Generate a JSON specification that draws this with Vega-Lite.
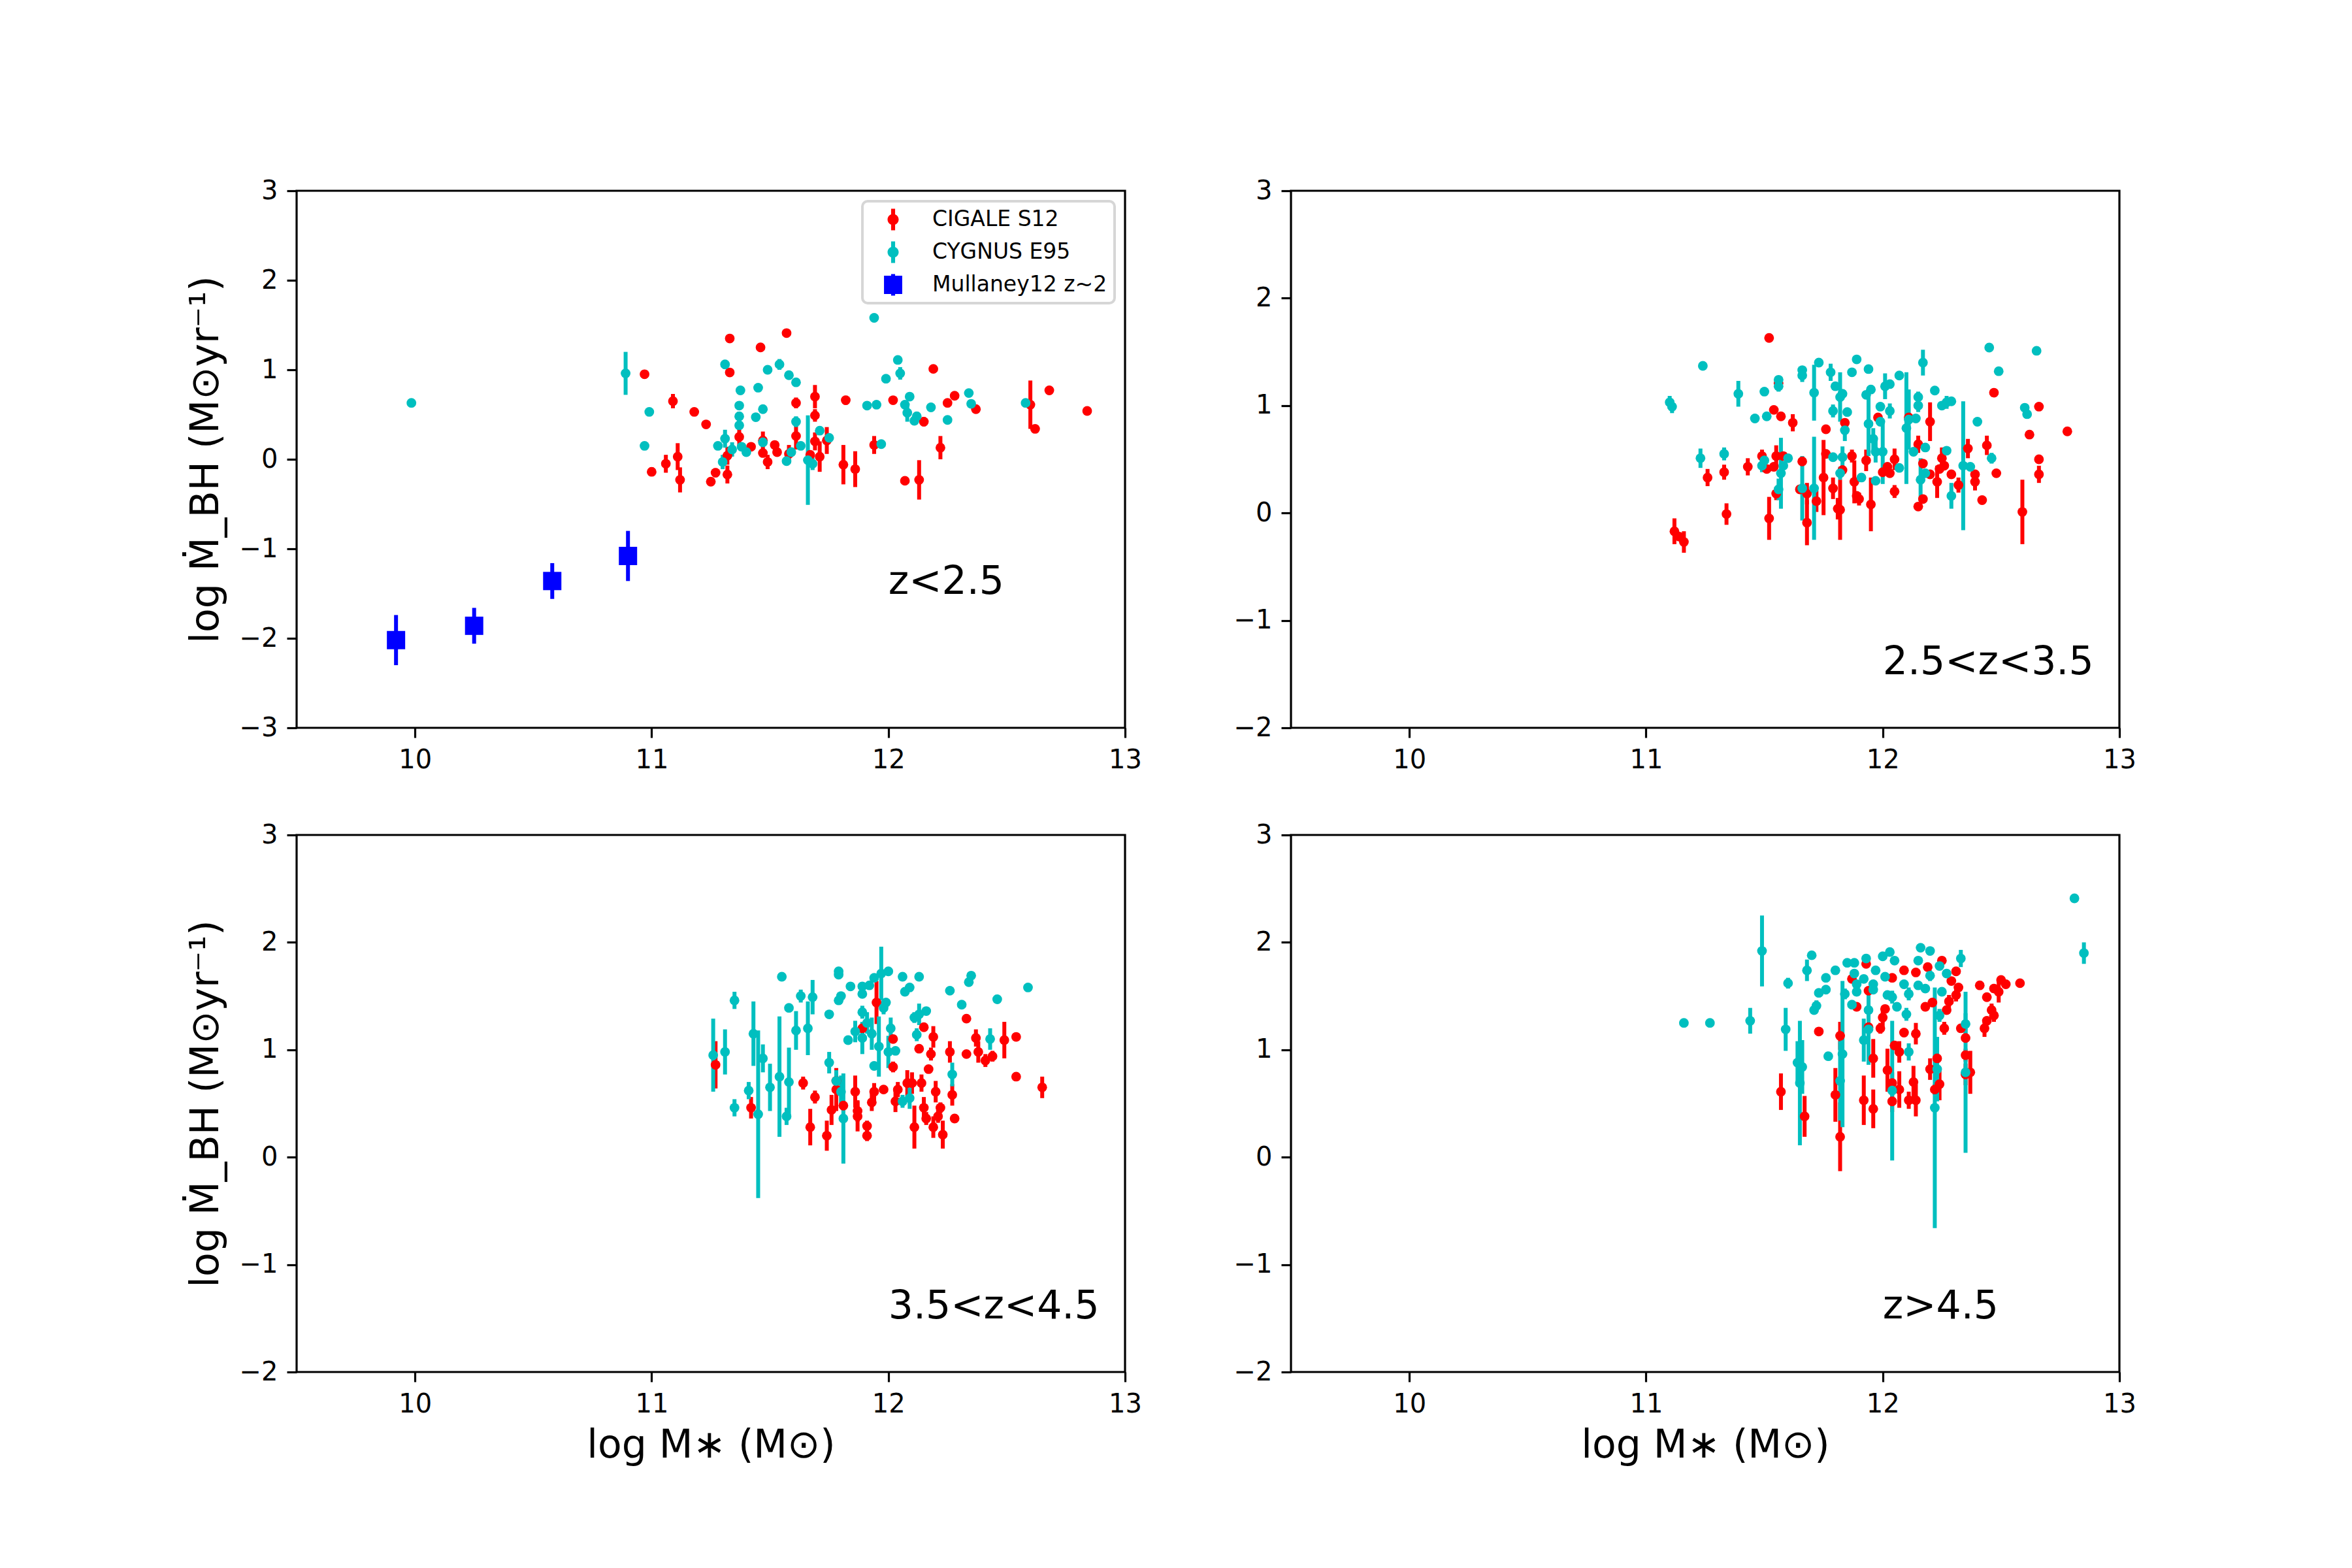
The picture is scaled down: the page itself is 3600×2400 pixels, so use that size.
{
  "$schema": "https://vega.github.io/schema/vega-lite/v6.json",
  "background": "white",
  "padding": {"left": 283, "top": 270, "right": 20, "bottom": 20},
  "autosize": {"type": "pad"},
  "config": {
    "font": "DejaVu Sans",
    "view": {"stroke": "black", "strokeWidth": 3.2},
    "axis": {
      "grid": false, "domain": false, "ticks": true, "tickSize": 15, "tickWidth": 3.2, "tickColor": "black",
      "labelFontSize": 40, "labelColor": "black", "labelPadding": 14, "labelFlush": false, "labelOverlap": false,
      "titleFontSize": 60, "titleFontWeight": "normal", "titleColor": "black",
      "labelFont": "DejaVu Sans", "titleFont": "DejaVu Sans"
    },
    "axisY": {"titlePadding": 20},
    "axisX": {"titlePadding": 14}
  },
  "datasets": {
    "p1": [
      {"s":"CIGALE S12","x":10.97,"y":0.95,"e":0},
      {"s":"CIGALE S12","x":11.00,"y":-0.14,"e":0.05},
      {"s":"CIGALE S12","x":11.06,"y":-0.05,"e":0.1},
      {"s":"CIGALE S12","x":11.09,"y":0.65,"e":0.08},
      {"s":"CIGALE S12","x":11.11,"y":0.03,"e":0.15},
      {"s":"CIGALE S12","x":11.12,"y":-0.23,"e":0.14},
      {"s":"CIGALE S12","x":11.18,"y":0.53,"e":0},
      {"s":"CIGALE S12","x":11.23,"y":0.39,"e":0.04},
      {"s":"CIGALE S12","x":11.25,"y":-0.25,"e":0},
      {"s":"CIGALE S12","x":11.27,"y":-0.15,"e":0.05},
      {"s":"CIGALE S12","x":11.32,"y":-0.17,"e":0.1},
      {"s":"CIGALE S12","x":11.33,"y":1.35,"e":0},
      {"s":"CIGALE S12","x":11.33,"y":0.97,"e":0},
      {"s":"CIGALE S12","x":11.37,"y":0.25,"e":0.1},
      {"s":"CIGALE S12","x":11.32,"y":0.04,"e":0.1},
      {"s":"CIGALE S12","x":11.42,"y":0.14,"e":0},
      {"s":"CIGALE S12","x":11.46,"y":1.25,"e":0},
      {"s":"CIGALE S12","x":11.47,"y":0.21,"e":0.1},
      {"s":"CIGALE S12","x":11.47,"y":0.07,"e":0},
      {"s":"CIGALE S12","x":11.49,"y":-0.03,"e":0.08},
      {"s":"CIGALE S12","x":11.52,"y":0.16,"e":0},
      {"s":"CIGALE S12","x":11.53,"y":0.08,"e":0},
      {"s":"CIGALE S12","x":11.57,"y":1.41,"e":0},
      {"s":"CIGALE S12","x":11.58,"y":0.06,"e":0.1},
      {"s":"CIGALE S12","x":11.61,"y":0.63,"e":0.06},
      {"s":"CIGALE S12","x":11.61,"y":0.26,"e":0.15},
      {"s":"CIGALE S12","x":11.69,"y":0.70,"e":0.13},
      {"s":"CIGALE S12","x":11.69,"y":0.49,"e":0.07},
      {"s":"CIGALE S12","x":11.69,"y":0.20,"e":0.1},
      {"s":"CIGALE S12","x":11.67,"y":0.05,"e":0},
      {"s":"CIGALE S12","x":11.71,"y":0.03,"e":0.17},
      {"s":"CIGALE S12","x":11.74,"y":0.21,"e":0.15},
      {"s":"CIGALE S12","x":11.81,"y":-0.06,"e":0.22},
      {"s":"CIGALE S12","x":11.82,"y":0.66,"e":0.05},
      {"s":"CIGALE S12","x":11.86,"y":-0.11,"e":0.2},
      {"s":"CIGALE S12","x":11.94,"y":0.16,"e":0.1},
      {"s":"CIGALE S12","x":12.02,"y":0.66,"e":0},
      {"s":"CIGALE S12","x":12.07,"y":-0.24,"e":0},
      {"s":"CIGALE S12","x":12.13,"y":-0.23,"e":0.22},
      {"s":"CIGALE S12","x":12.15,"y":0.42,"e":0.05},
      {"s":"CIGALE S12","x":12.19,"y":1.01,"e":0},
      {"s":"CIGALE S12","x":12.22,"y":0.13,"e":0.13},
      {"s":"CIGALE S12","x":12.25,"y":0.63,"e":0},
      {"s":"CIGALE S12","x":12.28,"y":0.71,"e":0},
      {"s":"CIGALE S12","x":12.37,"y":0.56,"e":0},
      {"s":"CIGALE S12","x":12.60,"y":0.61,"e":0.27},
      {"s":"CIGALE S12","x":12.62,"y":0.34,"e":0},
      {"s":"CIGALE S12","x":12.68,"y":0.77,"e":0},
      {"s":"CIGALE S12","x":12.84,"y":0.54,"e":0.03},
      {"s":"CYGNUS E95","x":9.985,"y":0.63,"e":0},
      {"s":"CYGNUS E95","x":10.89,"y":0.96,"e":0.24},
      {"s":"CYGNUS E95","x":10.99,"y":0.53,"e":0},
      {"s":"CYGNUS E95","x":10.97,"y":0.15,"e":0},
      {"s":"CYGNUS E95","x":11.31,"y":1.06,"e":0.05},
      {"s":"CYGNUS E95","x":11.375,"y":0.77,"e":0},
      {"s":"CYGNUS E95","x":11.37,"y":0.60,"e":0},
      {"s":"CYGNUS E95","x":11.37,"y":0.48,"e":0.05},
      {"s":"CYGNUS E95","x":11.37,"y":0.38,"e":0.05},
      {"s":"CYGNUS E95","x":11.31,"y":0.23,"e":0.1},
      {"s":"CYGNUS E95","x":11.28,"y":0.15,"e":0},
      {"s":"CYGNUS E95","x":11.30,"y":-0.03,"e":0.08},
      {"s":"CYGNUS E95","x":11.34,"y":0.11,"e":0.08},
      {"s":"CYGNUS E95","x":11.38,"y":0.14,"e":0},
      {"s":"CYGNUS E95","x":11.40,"y":0.08,"e":0},
      {"s":"CYGNUS E95","x":11.45,"y":0.80,"e":0},
      {"s":"CYGNUS E95","x":11.44,"y":0.47,"e":0},
      {"s":"CYGNUS E95","x":11.47,"y":0.56,"e":0},
      {"s":"CYGNUS E95","x":11.49,"y":1.00,"e":0},
      {"s":"CYGNUS E95","x":11.54,"y":1.06,"e":0.06},
      {"s":"CYGNUS E95","x":11.58,"y":0.94,"e":0},
      {"s":"CYGNUS E95","x":11.61,"y":0.86,"e":0},
      {"s":"CYGNUS E95","x":11.47,"y":0.19,"e":0.05},
      {"s":"CYGNUS E95","x":11.57,"y":-0.02,"e":0},
      {"s":"CYGNUS E95","x":11.59,"y":0.08,"e":0},
      {"s":"CYGNUS E95","x":11.61,"y":0.42,"e":0.06},
      {"s":"CYGNUS E95","x":11.63,"y":0.15,"e":0},
      {"s":"CYGNUS E95","x":11.66,"y":-0.01,"e":0.5},
      {"s":"CYGNUS E95","x":11.68,"y":-0.05,"e":0.07},
      {"s":"CYGNUS E95","x":11.71,"y":0.32,"e":0},
      {"s":"CYGNUS E95","x":11.75,"y":0.24,"e":0},
      {"s":"CYGNUS E95","x":11.94,"y":1.58,"e":0},
      {"s":"CYGNUS E95","x":11.91,"y":0.60,"e":0},
      {"s":"CYGNUS E95","x":11.95,"y":0.61,"e":0},
      {"s":"CYGNUS E95","x":11.97,"y":0.17,"e":0},
      {"s":"CYGNUS E95","x":11.99,"y":0.90,"e":0},
      {"s":"CYGNUS E95","x":12.04,"y":1.11,"e":0},
      {"s":"CYGNUS E95","x":12.05,"y":0.96,"e":0.07},
      {"s":"CYGNUS E95","x":12.07,"y":0.61,"e":0},
      {"s":"CYGNUS E95","x":12.08,"y":0.52,"e":0.1},
      {"s":"CYGNUS E95","x":12.09,"y":0.70,"e":0},
      {"s":"CYGNUS E95","x":12.11,"y":0.43,"e":0},
      {"s":"CYGNUS E95","x":12.12,"y":0.48,"e":0.05},
      {"s":"CYGNUS E95","x":12.18,"y":0.58,"e":0},
      {"s":"CYGNUS E95","x":12.25,"y":0.44,"e":0},
      {"s":"CYGNUS E95","x":12.34,"y":0.74,"e":0},
      {"s":"CYGNUS E95","x":12.35,"y":0.62,"e":0},
      {"s":"CYGNUS E95","x":12.58,"y":0.63,"e":0},
      {"s":"Mullaney12 z~2","x":9.92,"y":-2.02,"e":0.28},
      {"s":"Mullaney12 z~2","x":10.25,"y":-1.86,"e":0.2},
      {"s":"Mullaney12 z~2","x":10.58,"y":-1.36,"e":0.2},
      {"s":"Mullaney12 z~2","x":10.90,"y":-1.08,"e":0.28}
    ],
    "p2": [
      {"s":"CIGALE S12","x":11.52,"y":1.63,"e":0},
      {"s":"CIGALE S12","x":11.12,"y":-0.17,"e":0.12},
      {"s":"CIGALE S12","x":11.14,"y":-0.22,"e":0},
      {"s":"CIGALE S12","x":11.16,"y":-0.27,"e":0.1},
      {"s":"CIGALE S12","x":11.26,"y":0.33,"e":0.08},
      {"s":"CIGALE S12","x":11.33,"y":0.38,"e":0.07},
      {"s":"CIGALE S12","x":11.34,"y":-0.01,"e":0.1},
      {"s":"CIGALE S12","x":11.43,"y":0.43,"e":0.08},
      {"s":"CIGALE S12","x":11.49,"y":0.53,"e":0.06},
      {"s":"CIGALE S12","x":11.52,"y":-0.05,"e":0.2},
      {"s":"CIGALE S12","x":11.51,"y":0.41,"e":0},
      {"s":"CIGALE S12","x":11.54,"y":0.96,"e":0},
      {"s":"CIGALE S12","x":11.57,"y":0.90,"e":0},
      {"s":"CIGALE S12","x":11.56,"y":1.21,"e":0},
      {"s":"CIGALE S12","x":11.55,"y":0.53,"e":0.1},
      {"s":"CIGALE S12","x":11.54,"y":0.43,"e":0},
      {"s":"CIGALE S12","x":11.55,"y":0.18,"e":0.06},
      {"s":"CIGALE S12","x":11.58,"y":0.53,"e":0},
      {"s":"CIGALE S12","x":11.62,"y":0.84,"e":0.08},
      {"s":"CIGALE S12","x":11.65,"y":0.22,"e":0},
      {"s":"CIGALE S12","x":11.66,"y":0.48,"e":0},
      {"s":"CIGALE S12","x":11.68,"y":-0.09,"e":0.21},
      {"s":"CIGALE S12","x":11.68,"y":0.18,"e":0.1},
      {"s":"CIGALE S12","x":11.72,"y":0.11,"e":0.1},
      {"s":"CIGALE S12","x":11.75,"y":0.33,"e":0.35},
      {"s":"CIGALE S12","x":11.76,"y":0.78,"e":0},
      {"s":"CIGALE S12","x":11.76,"y":0.55,"e":0},
      {"s":"CIGALE S12","x":11.79,"y":0.23,"e":0.1},
      {"s":"CIGALE S12","x":11.81,"y":0.04,"e":0.1},
      {"s":"CIGALE S12","x":11.82,"y":0.03,"e":0.28},
      {"s":"CIGALE S12","x":11.83,"y":0.40,"e":0},
      {"s":"CIGALE S12","x":11.84,"y":0.84,"e":0},
      {"s":"CIGALE S12","x":11.87,"y":0.53,"e":0.06},
      {"s":"CIGALE S12","x":11.88,"y":0.29,"e":0.2},
      {"s":"CIGALE S12","x":11.89,"y":0.16,"e":0},
      {"s":"CIGALE S12","x":11.90,"y":0.13,"e":0.06},
      {"s":"CIGALE S12","x":11.93,"y":0.49,"e":0.1},
      {"s":"CIGALE S12","x":11.95,"y":0.08,"e":0.25},
      {"s":"CIGALE S12","x":11.98,"y":0.89,"e":0},
      {"s":"CIGALE S12","x":12.00,"y":0.38,"e":0},
      {"s":"CIGALE S12","x":12.02,"y":0.43,"e":0},
      {"s":"CIGALE S12","x":12.03,"y":0.37,"e":0},
      {"s":"CIGALE S12","x":12.05,"y":0.50,"e":0.1},
      {"s":"CIGALE S12","x":12.05,"y":0.20,"e":0.06},
      {"s":"CIGALE S12","x":12.11,"y":0.89,"e":0},
      {"s":"CIGALE S12","x":12.15,"y":0.64,"e":0.08},
      {"s":"CIGALE S12","x":12.17,"y":0.46,"e":0},
      {"s":"CIGALE S12","x":12.15,"y":0.06,"e":0},
      {"s":"CIGALE S12","x":12.17,"y":0.13,"e":0},
      {"s":"CIGALE S12","x":12.20,"y":0.85,"e":0.18},
      {"s":"CIGALE S12","x":12.20,"y":0.36,"e":0},
      {"s":"CIGALE S12","x":12.23,"y":0.29,"e":0.15},
      {"s":"CIGALE S12","x":12.24,"y":0.41,"e":0},
      {"s":"CIGALE S12","x":12.25,"y":0.51,"e":0.1},
      {"s":"CIGALE S12","x":12.26,"y":0.44,"e":0},
      {"s":"CIGALE S12","x":12.29,"y":0.36,"e":0},
      {"s":"CIGALE S12","x":12.32,"y":0.26,"e":0.07},
      {"s":"CIGALE S12","x":12.36,"y":0.60,"e":0.09},
      {"s":"CIGALE S12","x":12.39,"y":0.29,"e":0.08},
      {"s":"CIGALE S12","x":12.39,"y":0.36,"e":0},
      {"s":"CIGALE S12","x":12.42,"y":0.12,"e":0},
      {"s":"CIGALE S12","x":12.44,"y":0.63,"e":0.09},
      {"s":"CIGALE S12","x":12.47,"y":1.12,"e":0},
      {"s":"CIGALE S12","x":12.48,"y":0.37,"e":0},
      {"s":"CIGALE S12","x":12.59,"y":0.01,"e":0.3},
      {"s":"CIGALE S12","x":12.62,"y":0.73,"e":0},
      {"s":"CIGALE S12","x":12.66,"y":0.99,"e":0},
      {"s":"CIGALE S12","x":12.66,"y":0.50,"e":0},
      {"s":"CIGALE S12","x":12.66,"y":0.36,"e":0.08},
      {"s":"CIGALE S12","x":12.78,"y":0.76,"e":0},
      {"s":"CYGNUS E95","x":11.10,"y":1.03,"e":0.06},
      {"s":"CYGNUS E95","x":11.11,"y":0.99,"e":0.06},
      {"s":"CYGNUS E95","x":11.24,"y":1.37,"e":0},
      {"s":"CYGNUS E95","x":11.23,"y":0.51,"e":0.09},
      {"s":"CYGNUS E95","x":11.33,"y":0.55,"e":0.06},
      {"s":"CYGNUS E95","x":11.39,"y":1.11,"e":0.12},
      {"s":"CYGNUS E95","x":11.46,"y":0.88,"e":0},
      {"s":"CYGNUS E95","x":11.50,"y":1.13,"e":0},
      {"s":"CYGNUS E95","x":11.51,"y":0.90,"e":0},
      {"s":"CYGNUS E95","x":11.49,"y":0.44,"e":0.06},
      {"s":"CYGNUS E95","x":11.50,"y":0.49,"e":0},
      {"s":"CYGNUS E95","x":11.56,"y":1.24,"e":0},
      {"s":"CYGNUS E95","x":11.56,"y":1.18,"e":0.05},
      {"s":"CYGNUS E95","x":11.57,"y":0.37,"e":0.33},
      {"s":"CYGNUS E95","x":11.58,"y":0.44,"e":0},
      {"s":"CYGNUS E95","x":11.60,"y":0.51,"e":0},
      {"s":"CYGNUS E95","x":11.56,"y":0.22,"e":0.1},
      {"s":"CYGNUS E95","x":11.66,"y":1.33,"e":0},
      {"s":"CYGNUS E95","x":11.66,"y":1.28,"e":0.06},
      {"s":"CYGNUS E95","x":11.71,"y":1.12,"e":0.26},
      {"s":"CYGNUS E95","x":11.73,"y":1.40,"e":0},
      {"s":"CYGNUS E95","x":11.66,"y":0.23,"e":0.3},
      {"s":"CYGNUS E95","x":11.71,"y":0.23,"e":0.48},
      {"s":"CYGNUS E95","x":11.78,"y":1.31,"e":0.08},
      {"s":"CYGNUS E95","x":11.80,"y":1.18,"e":0},
      {"s":"CYGNUS E95","x":11.82,"y":1.08,"e":0.23},
      {"s":"CYGNUS E95","x":11.83,"y":1.11,"e":0},
      {"s":"CYGNUS E95","x":11.79,"y":0.95,"e":0.06},
      {"s":"CYGNUS E95","x":11.85,"y":0.94,"e":0},
      {"s":"CYGNUS E95","x":11.84,"y":0.77,"e":0.1},
      {"s":"CYGNUS E95","x":11.79,"y":0.52,"e":0},
      {"s":"CYGNUS E95","x":11.83,"y":0.52,"e":0.1},
      {"s":"CYGNUS E95","x":11.82,"y":0.37,"e":0.06},
      {"s":"CYGNUS E95","x":11.87,"y":1.31,"e":0},
      {"s":"CYGNUS E95","x":11.89,"y":1.43,"e":0},
      {"s":"CYGNUS E95","x":11.94,"y":1.34,"e":0},
      {"s":"CYGNUS E95","x":11.93,"y":1.10,"e":0},
      {"s":"CYGNUS E95","x":11.95,"y":1.15,"e":0},
      {"s":"CYGNUS E95","x":11.99,"y":0.99,"e":0},
      {"s":"CYGNUS E95","x":11.94,"y":0.83,"e":0.3},
      {"s":"CYGNUS E95","x":11.99,"y":0.85,"e":0},
      {"s":"CYGNUS E95","x":11.96,"y":0.69,"e":0.1},
      {"s":"CYGNUS E95","x":11.97,"y":0.57,"e":0.1},
      {"s":"CYGNUS E95","x":12.00,"y":0.57,"e":0.3},
      {"s":"CYGNUS E95","x":11.97,"y":0.30,"e":0},
      {"s":"CYGNUS E95","x":11.91,"y":0.33,"e":0},
      {"s":"CYGNUS E95","x":12.01,"y":1.18,"e":0.12},
      {"s":"CYGNUS E95","x":12.03,"y":1.20,"e":0},
      {"s":"CYGNUS E95","x":12.03,"y":0.95,"e":0.07},
      {"s":"CYGNUS E95","x":12.07,"y":1.28,"e":0},
      {"s":"CYGNUS E95","x":12.10,"y":0.79,"e":0.52},
      {"s":"CYGNUS E95","x":12.07,"y":0.42,"e":0},
      {"s":"CYGNUS E95","x":12.11,"y":0.87,"e":0.28},
      {"s":"CYGNUS E95","x":12.15,"y":1.08,"e":0.05},
      {"s":"CYGNUS E95","x":12.15,"y":1.00,"e":0.06},
      {"s":"CYGNUS E95","x":12.14,"y":0.88,"e":0},
      {"s":"CYGNUS E95","x":12.13,"y":0.57,"e":0},
      {"s":"CYGNUS E95","x":12.17,"y":1.40,"e":0.12},
      {"s":"CYGNUS E95","x":12.18,"y":0.61,"e":0},
      {"s":"CYGNUS E95","x":12.18,"y":0.37,"e":0},
      {"s":"CYGNUS E95","x":12.16,"y":0.31,"e":0.2},
      {"s":"CYGNUS E95","x":12.22,"y":1.14,"e":0},
      {"s":"CYGNUS E95","x":12.25,"y":1.00,"e":0},
      {"s":"CYGNUS E95","x":12.27,"y":1.03,"e":0.06},
      {"s":"CYGNUS E95","x":12.29,"y":1.04,"e":0},
      {"s":"CYGNUS E95","x":12.27,"y":0.58,"e":0},
      {"s":"CYGNUS E95","x":12.29,"y":0.16,"e":0.12},
      {"s":"CYGNUS E95","x":12.34,"y":0.44,"e":0.6},
      {"s":"CYGNUS E95","x":12.37,"y":0.43,"e":0},
      {"s":"CYGNUS E95","x":12.40,"y":0.85,"e":0},
      {"s":"CYGNUS E95","x":12.45,"y":1.54,"e":0},
      {"s":"CYGNUS E95","x":12.49,"y":1.32,"e":0},
      {"s":"CYGNUS E95","x":12.46,"y":0.51,"e":0.05},
      {"s":"CYGNUS E95","x":12.60,"y":0.98,"e":0},
      {"s":"CYGNUS E95","x":12.61,"y":0.92,"e":0},
      {"s":"CYGNUS E95","x":12.65,"y":1.51,"e":0}
    ],
    "p3": [
      {"s":"CIGALE S12","x":11.27,"y":0.86,"e":0.22},
      {"s":"CIGALE S12","x":11.42,"y":0.46,"e":0.1},
      {"s":"CIGALE S12","x":11.64,"y":0.69,"e":0.06},
      {"s":"CIGALE S12","x":11.67,"y":0.28,"e":0.17},
      {"s":"CIGALE S12","x":11.69,"y":0.56,"e":0.06},
      {"s":"CIGALE S12","x":11.74,"y":0.20,"e":0.14},
      {"s":"CIGALE S12","x":11.76,"y":0.44,"e":0.14},
      {"s":"CIGALE S12","x":11.78,"y":0.63,"e":0.2},
      {"s":"CIGALE S12","x":11.78,"y":0.71,"e":0.1},
      {"s":"CIGALE S12","x":11.81,"y":0.48,"e":0.05},
      {"s":"CIGALE S12","x":11.86,"y":0.61,"e":0.15},
      {"s":"CIGALE S12","x":11.87,"y":0.43,"e":0.1},
      {"s":"CIGALE S12","x":11.87,"y":0.38,"e":0.14},
      {"s":"CIGALE S12","x":11.89,"y":1.20,"e":0.05},
      {"s":"CIGALE S12","x":11.91,"y":0.29,"e":0.05},
      {"s":"CIGALE S12","x":11.91,"y":0.20,"e":0.05},
      {"s":"CIGALE S12","x":11.93,"y":0.51,"e":0.08},
      {"s":"CIGALE S12","x":11.94,"y":0.61,"e":0.08},
      {"s":"CIGALE S12","x":11.95,"y":1.44,"e":0.2},
      {"s":"CIGALE S12","x":11.98,"y":0.63,"e":0},
      {"s":"CIGALE S12","x":12.02,"y":1.10,"e":0},
      {"s":"CIGALE S12","x":12.02,"y":0.84,"e":0.05},
      {"s":"CIGALE S12","x":12.03,"y":0.52,"e":0.1},
      {"s":"CIGALE S12","x":12.04,"y":0.63,"e":0.07},
      {"s":"CIGALE S12","x":12.08,"y":0.69,"e":0.12},
      {"s":"CIGALE S12","x":12.10,"y":0.69,"e":0.1},
      {"s":"CIGALE S12","x":12.11,"y":0.28,"e":0.2},
      {"s":"CIGALE S12","x":12.13,"y":1.01,"e":0},
      {"s":"CIGALE S12","x":12.15,"y":1.21,"e":0},
      {"s":"CIGALE S12","x":12.14,"y":0.69,"e":0.08},
      {"s":"CIGALE S12","x":12.15,"y":0.46,"e":0.1},
      {"s":"CIGALE S12","x":12.16,"y":0.36,"e":0.06},
      {"s":"CIGALE S12","x":12.17,"y":0.82,"e":0},
      {"s":"CIGALE S12","x":12.18,"y":0.96,"e":0.06},
      {"s":"CIGALE S12","x":12.19,"y":0.28,"e":0.1},
      {"s":"CIGALE S12","x":12.19,"y":1.12,"e":0.1},
      {"s":"CIGALE S12","x":12.20,"y":0.61,"e":0.1},
      {"s":"CIGALE S12","x":12.21,"y":0.38,"e":0.06},
      {"s":"CIGALE S12","x":12.22,"y":0.46,"e":0.05},
      {"s":"CIGALE S12","x":12.23,"y":0.21,"e":0.13},
      {"s":"CIGALE S12","x":12.26,"y":0.98,"e":0.1},
      {"s":"CIGALE S12","x":12.27,"y":0.58,"e":0.1},
      {"s":"CIGALE S12","x":12.28,"y":0.36,"e":0},
      {"s":"CIGALE S12","x":12.33,"y":1.29,"e":0},
      {"s":"CIGALE S12","x":12.33,"y":0.96,"e":0},
      {"s":"CIGALE S12","x":12.37,"y":1.11,"e":0.08},
      {"s":"CIGALE S12","x":12.38,"y":0.98,"e":0.1},
      {"s":"CIGALE S12","x":12.41,"y":0.90,"e":0.06},
      {"s":"CIGALE S12","x":12.44,"y":0.94,"e":0.05},
      {"s":"CIGALE S12","x":12.49,"y":1.09,"e":0.17},
      {"s":"CIGALE S12","x":12.54,"y":1.12,"e":0},
      {"s":"CIGALE S12","x":12.54,"y":0.75,"e":0},
      {"s":"CIGALE S12","x":12.65,"y":0.65,"e":0.1},
      {"s":"CYGNUS E95","x":11.26,"y":0.95,"e":0.34},
      {"s":"CYGNUS E95","x":11.31,"y":0.98,"e":0.21},
      {"s":"CYGNUS E95","x":11.35,"y":1.46,"e":0.08},
      {"s":"CYGNUS E95","x":11.35,"y":0.46,"e":0.08},
      {"s":"CYGNUS E95","x":11.41,"y":0.62,"e":0.08},
      {"s":"CYGNUS E95","x":11.43,"y":1.15,"e":0.3},
      {"s":"CYGNUS E95","x":11.45,"y":0.40,"e":0.78},
      {"s":"CYGNUS E95","x":11.47,"y":0.92,"e":0.13},
      {"s":"CYGNUS E95","x":11.50,"y":0.65,"e":0.22},
      {"s":"CYGNUS E95","x":11.54,"y":0.75,"e":0.56},
      {"s":"CYGNUS E95","x":11.55,"y":1.68,"e":0},
      {"s":"CYGNUS E95","x":11.57,"y":0.38,"e":0.08},
      {"s":"CYGNUS E95","x":11.58,"y":1.39,"e":0},
      {"s":"CYGNUS E95","x":11.58,"y":0.70,"e":0.32},
      {"s":"CYGNUS E95","x":11.61,"y":1.18,"e":0.18},
      {"s":"CYGNUS E95","x":11.63,"y":1.50,"e":0.06},
      {"s":"CYGNUS E95","x":11.66,"y":1.20,"e":0.25},
      {"s":"CYGNUS E95","x":11.68,"y":1.49,"e":0.16},
      {"s":"CYGNUS E95","x":11.75,"y":1.33,"e":0},
      {"s":"CYGNUS E95","x":11.75,"y":0.88,"e":0.1},
      {"s":"CYGNUS E95","x":11.78,"y":0.71,"e":0.1},
      {"s":"CYGNUS E95","x":11.79,"y":1.73,"e":0},
      {"s":"CYGNUS E95","x":11.79,"y":1.70,"e":0},
      {"s":"CYGNUS E95","x":11.79,"y":1.46,"e":0},
      {"s":"CYGNUS E95","x":11.80,"y":1.50,"e":0},
      {"s":"CYGNUS E95","x":11.80,"y":0.61,"e":0.15},
      {"s":"CYGNUS E95","x":11.81,"y":0.36,"e":0.42},
      {"s":"CYGNUS E95","x":11.83,"y":1.09,"e":0},
      {"s":"CYGNUS E95","x":11.84,"y":1.59,"e":0},
      {"s":"CYGNUS E95","x":11.86,"y":1.17,"e":0.1},
      {"s":"CYGNUS E95","x":11.89,"y":1.11,"e":0.15},
      {"s":"CYGNUS E95","x":11.89,"y":1.59,"e":0},
      {"s":"CYGNUS E95","x":11.89,"y":1.52,"e":0},
      {"s":"CYGNUS E95","x":11.92,"y":1.60,"e":0},
      {"s":"CYGNUS E95","x":11.89,"y":1.35,"e":0.06},
      {"s":"CYGNUS E95","x":11.91,"y":1.25,"e":0.1},
      {"s":"CYGNUS E95","x":11.93,"y":1.15,"e":0.15},
      {"s":"CYGNUS E95","x":11.94,"y":0.85,"e":0},
      {"s":"CYGNUS E95","x":11.97,"y":1.71,"e":0.25},
      {"s":"CYGNUS E95","x":11.94,"y":1.67,"e":0},
      {"s":"CYGNUS E95","x":11.96,"y":1.03,"e":0.28},
      {"s":"CYGNUS E95","x":11.98,"y":1.39,"e":0.06},
      {"s":"CYGNUS E95","x":12.00,"y":1.73,"e":0},
      {"s":"CYGNUS E95","x":11.99,"y":1.44,"e":0},
      {"s":"CYGNUS E95","x":12.00,"y":0.98,"e":0.15},
      {"s":"CYGNUS E95","x":12.01,"y":1.20,"e":0.1},
      {"s":"CYGNUS E95","x":12.03,"y":0.99,"e":0},
      {"s":"CYGNUS E95","x":12.06,"y":1.68,"e":0},
      {"s":"CYGNUS E95","x":12.07,"y":1.54,"e":0},
      {"s":"CYGNUS E95","x":12.09,"y":1.58,"e":0},
      {"s":"CYGNUS E95","x":12.13,"y":1.68,"e":0},
      {"s":"CYGNUS E95","x":12.11,"y":1.30,"e":0.05},
      {"s":"CYGNUS E95","x":12.13,"y":1.33,"e":0.1},
      {"s":"CYGNUS E95","x":12.16,"y":1.36,"e":0},
      {"s":"CYGNUS E95","x":12.12,"y":1.14,"e":0.06},
      {"s":"CYGNUS E95","x":12.06,"y":0.52,"e":0.06},
      {"s":"CYGNUS E95","x":12.09,"y":0.55,"e":0.1},
      {"s":"CYGNUS E95","x":12.26,"y":1.55,"e":0},
      {"s":"CYGNUS E95","x":12.31,"y":1.42,"e":0},
      {"s":"CYGNUS E95","x":12.34,"y":1.63,"e":0},
      {"s":"CYGNUS E95","x":12.35,"y":1.69,"e":0},
      {"s":"CYGNUS E95","x":12.27,"y":0.77,"e":0.11},
      {"s":"CYGNUS E95","x":12.43,"y":1.10,"e":0.1},
      {"s":"CYGNUS E95","x":12.46,"y":1.47,"e":0},
      {"s":"CYGNUS E95","x":12.59,"y":1.58,"e":0}
    ],
    "p4": [
      {"s":"CIGALE S12","x":11.57,"y":0.61,"e":0.17},
      {"s":"CIGALE S12","x":11.67,"y":0.38,"e":0.19},
      {"s":"CIGALE S12","x":11.73,"y":1.17,"e":0},
      {"s":"CIGALE S12","x":11.80,"y":0.58,"e":0.25},
      {"s":"CIGALE S12","x":11.82,"y":1.13,"e":0.13},
      {"s":"CIGALE S12","x":11.82,"y":0.19,"e":0.32},
      {"s":"CIGALE S12","x":11.87,"y":1.66,"e":0},
      {"s":"CIGALE S12","x":11.89,"y":1.40,"e":0},
      {"s":"CIGALE S12","x":11.92,"y":0.53,"e":0.23},
      {"s":"CIGALE S12","x":11.93,"y":1.80,"e":0},
      {"s":"CIGALE S12","x":11.94,"y":1.55,"e":0},
      {"s":"CIGALE S12","x":11.94,"y":1.21,"e":0},
      {"s":"CIGALE S12","x":11.96,"y":0.45,"e":0.18},
      {"s":"CIGALE S12","x":11.96,"y":0.92,"e":0.18},
      {"s":"CIGALE S12","x":11.99,"y":1.20,"e":0.05},
      {"s":"CIGALE S12","x":12.00,"y":1.30,"e":0.08},
      {"s":"CIGALE S12","x":12.01,"y":1.38,"e":0},
      {"s":"CIGALE S12","x":12.02,"y":0.81,"e":0.2},
      {"s":"CIGALE S12","x":12.04,"y":0.69,"e":0.1},
      {"s":"CIGALE S12","x":12.04,"y":0.52,"e":0.1},
      {"s":"CIGALE S12","x":12.04,"y":1.67,"e":0},
      {"s":"CIGALE S12","x":12.05,"y":1.04,"e":0},
      {"s":"CIGALE S12","x":12.07,"y":0.63,"e":0.17},
      {"s":"CIGALE S12","x":12.07,"y":0.98,"e":0.1},
      {"s":"CIGALE S12","x":12.09,"y":1.74,"e":0},
      {"s":"CIGALE S12","x":12.09,"y":1.16,"e":0},
      {"s":"CIGALE S12","x":12.11,"y":0.53,"e":0.08},
      {"s":"CIGALE S12","x":12.13,"y":0.70,"e":0.15},
      {"s":"CIGALE S12","x":12.14,"y":0.53,"e":0.15},
      {"s":"CIGALE S12","x":12.14,"y":1.72,"e":0},
      {"s":"CIGALE S12","x":12.14,"y":1.15,"e":0.1},
      {"s":"CIGALE S12","x":12.18,"y":1.40,"e":0},
      {"s":"CIGALE S12","x":12.20,"y":0.82,"e":0.1},
      {"s":"CIGALE S12","x":12.19,"y":1.77,"e":0},
      {"s":"CIGALE S12","x":12.21,"y":1.44,"e":0},
      {"s":"CIGALE S12","x":12.23,"y":0.92,"e":0},
      {"s":"CIGALE S12","x":12.22,"y":0.63,"e":0.05},
      {"s":"CIGALE S12","x":12.24,"y":0.68,"e":0.15},
      {"s":"CIGALE S12","x":12.25,"y":1.83,"e":0},
      {"s":"CIGALE S12","x":12.26,"y":1.20,"e":0.06},
      {"s":"CIGALE S12","x":12.27,"y":1.37,"e":0},
      {"s":"CIGALE S12","x":12.28,"y":1.45,"e":0.06},
      {"s":"CIGALE S12","x":12.29,"y":1.64,"e":0},
      {"s":"CIGALE S12","x":12.31,"y":1.73,"e":0},
      {"s":"CIGALE S12","x":12.31,"y":1.51,"e":0.06},
      {"s":"CIGALE S12","x":12.32,"y":1.58,"e":0},
      {"s":"CIGALE S12","x":12.33,"y":1.20,"e":0},
      {"s":"CIGALE S12","x":12.35,"y":1.11,"e":0},
      {"s":"CIGALE S12","x":12.35,"y":0.95,"e":0.06},
      {"s":"CIGALE S12","x":12.35,"y":0.77,"e":0.1},
      {"s":"CIGALE S12","x":12.37,"y":0.79,"e":0.2},
      {"s":"CIGALE S12","x":12.41,"y":1.60,"e":0},
      {"s":"CIGALE S12","x":12.43,"y":1.20,"e":0.08},
      {"s":"CIGALE S12","x":12.44,"y":1.27,"e":0},
      {"s":"CIGALE S12","x":12.44,"y":1.49,"e":0},
      {"s":"CIGALE S12","x":12.46,"y":1.37,"e":0.06},
      {"s":"CIGALE S12","x":12.47,"y":1.57,"e":0},
      {"s":"CIGALE S12","x":12.47,"y":1.32,"e":0.06},
      {"s":"CIGALE S12","x":12.49,"y":1.54,"e":0.1},
      {"s":"CIGALE S12","x":12.50,"y":1.65,"e":0},
      {"s":"CIGALE S12","x":12.52,"y":1.61,"e":0},
      {"s":"CIGALE S12","x":12.58,"y":1.62,"e":0},
      {"s":"CYGNUS E95","x":11.16,"y":1.25,"e":0},
      {"s":"CYGNUS E95","x":11.27,"y":1.25,"e":0},
      {"s":"CYGNUS E95","x":11.44,"y":1.27,"e":0.12},
      {"s":"CYGNUS E95","x":11.49,"y":1.92,"e":0.33},
      {"s":"CYGNUS E95","x":11.60,"y":1.62,"e":0.05},
      {"s":"CYGNUS E95","x":11.59,"y":1.19,"e":0.2},
      {"s":"CYGNUS E95","x":11.64,"y":0.88,"e":0.2},
      {"s":"CYGNUS E95","x":11.65,"y":0.69,"e":0.58},
      {"s":"CYGNUS E95","x":11.66,"y":0.84,"e":0.25},
      {"s":"CYGNUS E95","x":11.68,"y":1.74,"e":0.1},
      {"s":"CYGNUS E95","x":11.70,"y":1.88,"e":0},
      {"s":"CYGNUS E95","x":11.71,"y":1.37,"e":0},
      {"s":"CYGNUS E95","x":11.72,"y":1.41,"e":0.05},
      {"s":"CYGNUS E95","x":11.73,"y":1.53,"e":0},
      {"s":"CYGNUS E95","x":11.76,"y":1.67,"e":0},
      {"s":"CYGNUS E95","x":11.76,"y":1.56,"e":0},
      {"s":"CYGNUS E95","x":11.77,"y":0.94,"e":0},
      {"s":"CYGNUS E95","x":11.80,"y":1.74,"e":0},
      {"s":"CYGNUS E95","x":11.82,"y":0.71,"e":0.37},
      {"s":"CYGNUS E95","x":11.83,"y":0.96,"e":0.68},
      {"s":"CYGNUS E95","x":11.84,"y":1.52,"e":0.05},
      {"s":"CYGNUS E95","x":11.85,"y":1.81,"e":0},
      {"s":"CYGNUS E95","x":11.88,"y":1.81,"e":0},
      {"s":"CYGNUS E95","x":11.88,"y":1.71,"e":0},
      {"s":"CYGNUS E95","x":11.87,"y":1.42,"e":0},
      {"s":"CYGNUS E95","x":11.89,"y":1.61,"e":0},
      {"s":"CYGNUS E95","x":11.89,"y":1.54,"e":0},
      {"s":"CYGNUS E95","x":11.92,"y":1.66,"e":0},
      {"s":"CYGNUS E95","x":11.93,"y":1.85,"e":0},
      {"s":"CYGNUS E95","x":11.92,"y":1.09,"e":0.2},
      {"s":"CYGNUS E95","x":11.94,"y":1.37,"e":0.06},
      {"s":"CYGNUS E95","x":11.94,"y":1.19,"e":0.33},
      {"s":"CYGNUS E95","x":11.96,"y":1.61,"e":0},
      {"s":"CYGNUS E95","x":11.97,"y":1.74,"e":0},
      {"s":"CYGNUS E95","x":11.96,"y":1.56,"e":0},
      {"s":"CYGNUS E95","x":12.00,"y":1.87,"e":0},
      {"s":"CYGNUS E95","x":12.03,"y":1.91,"e":0},
      {"s":"CYGNUS E95","x":12.01,"y":1.68,"e":0},
      {"s":"CYGNUS E95","x":12.02,"y":1.51,"e":0},
      {"s":"CYGNUS E95","x":12.04,"y":1.49,"e":0.06},
      {"s":"CYGNUS E95","x":12.05,"y":1.83,"e":0},
      {"s":"CYGNUS E95","x":12.06,"y":1.40,"e":0},
      {"s":"CYGNUS E95","x":12.04,"y":0.62,"e":0.65},
      {"s":"CYGNUS E95","x":12.09,"y":1.61,"e":0},
      {"s":"CYGNUS E95","x":12.11,"y":1.52,"e":0.06},
      {"s":"CYGNUS E95","x":12.10,"y":1.33,"e":0.06},
      {"s":"CYGNUS E95","x":12.11,"y":0.98,"e":0.08},
      {"s":"CYGNUS E95","x":12.16,"y":1.95,"e":0},
      {"s":"CYGNUS E95","x":12.20,"y":1.92,"e":0},
      {"s":"CYGNUS E95","x":12.15,"y":1.83,"e":0},
      {"s":"CYGNUS E95","x":12.15,"y":1.60,"e":0},
      {"s":"CYGNUS E95","x":12.18,"y":1.57,"e":0},
      {"s":"CYGNUS E95","x":12.20,"y":1.69,"e":0.05},
      {"s":"CYGNUS E95","x":12.24,"y":1.78,"e":0},
      {"s":"CYGNUS E95","x":12.22,"y":0.46,"e":1.12},
      {"s":"CYGNUS E95","x":12.23,"y":0.82,"e":0.3},
      {"s":"CYGNUS E95","x":12.24,"y":1.32,"e":0.06},
      {"s":"CYGNUS E95","x":12.25,"y":1.54,"e":0},
      {"s":"CYGNUS E95","x":12.27,"y":1.71,"e":0},
      {"s":"CYGNUS E95","x":12.33,"y":1.85,"e":0.08},
      {"s":"CYGNUS E95","x":12.35,"y":0.79,"e":0.75},
      {"s":"CYGNUS E95","x":12.35,"y":1.24,"e":0.1},
      {"s":"CYGNUS E95","x":12.81,"y":2.41,"e":0},
      {"s":"CYGNUS E95","x":12.85,"y":1.90,"e":0.1}
    ],
    "labels": [
      {"panel": 1, "label": "z<2.5"},
      {"panel": 2, "label": "2.5<z<3.5"},
      {"panel": 3, "label": "3.5<z<4.5"},
      {"panel": 4, "label": "z>4.5"}
    ]
  },
  "columns": 2,
  "spacing": {"row": 164, "column": 254},
  "bounds": "flush",
  "resolve": {"scale": {"color": "independent", "shape": "independent"}},
  "concat": [
    {
      "width": 1268, "height": 822,
      "layer": [
        {
          "data": {"name": "p1"},
          "mark": {"type": "errorbar", "thickness": 6},
          "encoding": {
            "x": {"field": "x", "type": "quantitative", "scale": {"domain": [9.5, 13], "nice": false, "zero": false}, "axis": {"values": [10, 11, 12, 13], "format": "d", "title": null}},
            "y": {"field": "y", "type": "quantitative", "scale": {"domain": [-3, 3], "nice": false, "zero": false}, "axis": {"values": [-3, -2, -1, 0, 1, 2, 3], "format": "d", "title": "log Ṁ_BH (M⊙yr⁻¹)"}},
            "yError": {"field": "e"},
            "stroke": {"field": "s", "type": "nominal", "scale": {"domain": ["CIGALE S12", "CYGNUS E95", "Mullaney12 z~2"], "range": ["#ff0000", "#00bfbf", "#0000ff"]}, "legend": null}
          }
        },
        {
          "data": {"name": "p1"},
          "transform": [{"filter": "datum.s != 'Mullaney12 z~2'"}],
          "mark": {"type": "point", "filled": true, "shape": "circle", "size": 220, "opacity": 1, "strokeWidth": 0},
          "encoding": {
            "x": {"field": "x", "type": "quantitative"},
            "y": {"field": "y", "type": "quantitative"},
            "fill": {"field": "s", "type": "nominal", "scale": {"domain": ["CIGALE S12", "CYGNUS E95", "Mullaney12 z~2"], "range": ["#ff0000", "#00bfbf", "#0000ff"]}, "legend": null}
          }
        },
        {
          "data": {"name": "p1"},
          "transform": [{"filter": "datum.s == 'Mullaney12 z~2'"}],
          "mark": {"type": "point", "filled": true, "shape": "square", "size": 784, "opacity": 1, "strokeWidth": 0},
          "encoding": {
            "x": {"field": "x", "type": "quantitative"},
            "y": {"field": "y", "type": "quantitative"},
            "fill": {"field": "s", "type": "nominal", "scale": {"domain": ["CIGALE S12", "CYGNUS E95", "Mullaney12 z~2"], "range": ["#ff0000", "#00bfbf", "#0000ff"]}, "legend": null}
          }
        },
        {
          "data": {"name": "labels"},
          "transform": [{"filter": "datum.panel == 1"}],
          "mark": {"type": "text", "align": "left", "baseline": "alphabetic", "fontSize": 60, "font": "DejaVu Sans", "color": "black"},
          "encoding": {"x": {"datum": 12}, "y": {"datum": -1.5}, "text": {"field": "label", "type": "nominal"}}
        },
        {
          "data": {"name": "p1"},
          "mark": {"type": "point", "filled": true, "opacity": 0},
          "encoding": {
            "x": {"field": "x", "type": "quantitative"},
            "y": {"field": "y", "type": "quantitative"},
            "color": {"field": "s", "type": "nominal", "scale": {"domain": ["CIGALE S12", "CYGNUS E95", "Mullaney12 z~2"], "range": ["#ff0000", "#00bfbf", "#0000ff"]},
              "legend": {"title": null, "orient": "top-right", "offset": 16, "padding": 11, "symbolOffset": 19, "labelOffset": 43, "rowPadding": 16, "labelFontSize": 33, "labelColor": "black", "labelFont": "DejaVu Sans", "labelLimit": 800, "symbolSize": 1156, "symbolStrokeWidth": 0, "symbolOpacity": 1, "strokeColor": "#d6d6d6", "fillColor": "white", "cornerRadius": 8, "encode": {"legend": {"update": {"strokeWidth": {"value": 4}}}}}},
            "shape": {"field": "s", "type": "nominal", "scale": {"domain": ["CIGALE S12", "CYGNUS E95", "Mullaney12 z~2"], "range": ["M-0.5,0A0.5,0.5 0 1,1 0.5,0A0.5,0.5 0 1,1 -0.5,0ZM-0.18,-0.97H0.18V0.97H-0.18Z", "M-0.5,0A0.5,0.5 0 1,1 0.5,0A0.5,0.5 0 1,1 -0.5,0ZM-0.18,-0.97H0.18V0.97H-0.18Z", "M-0.82,-0.82H0.82V0.82H-0.82ZM-0.18,-0.97H0.18V0.97H-0.18Z"]},
              "legend": {"title": null, "orient": "top-right", "offset": 16, "padding": 11, "symbolOffset": 19, "labelOffset": 43, "rowPadding": 16, "labelFontSize": 33, "labelColor": "black", "labelFont": "DejaVu Sans", "labelLimit": 800, "symbolSize": 1156, "symbolStrokeWidth": 0, "symbolOpacity": 1, "strokeColor": "#d6d6d6", "fillColor": "white", "cornerRadius": 8, "encode": {"legend": {"update": {"strokeWidth": {"value": 4}}}}}}
          }
        }
      ]
    },
    {
      "width": 1268, "height": 822,
      "layer": [
        {
          "data": {"name": "p2"},
          "mark": {"type": "errorbar", "thickness": 6},
          "encoding": {
            "x": {"field": "x", "type": "quantitative", "scale": {"domain": [9.5, 13], "nice": false, "zero": false}, "axis": {"values": [10, 11, 12, 13], "format": "d", "title": null}},
            "y": {"field": "y", "type": "quantitative", "scale": {"domain": [-2, 3], "nice": false, "zero": false}, "axis": {"values": [-2, -1, 0, 1, 2, 3], "format": "d", "title": null}},
            "yError": {"field": "e"},
            "stroke": {"field": "s", "type": "nominal", "scale": {"domain": ["CIGALE S12", "CYGNUS E95", "Mullaney12 z~2"], "range": ["#ff0000", "#00bfbf", "#0000ff"]}, "legend": null}
          }
        },
        {
          "data": {"name": "p2"},
          "mark": {"type": "point", "filled": true, "shape": "circle", "size": 220, "opacity": 1, "strokeWidth": 0},
          "encoding": {
            "x": {"field": "x", "type": "quantitative"},
            "y": {"field": "y", "type": "quantitative"},
            "fill": {"field": "s", "type": "nominal", "scale": {"domain": ["CIGALE S12", "CYGNUS E95", "Mullaney12 z~2"], "range": ["#ff0000", "#00bfbf", "#0000ff"]}, "legend": null}
          }
        },
        {
          "data": {"name": "labels"},
          "transform": [{"filter": "datum.panel == 2"}],
          "mark": {"type": "text", "align": "left", "baseline": "alphabetic", "fontSize": 60, "font": "DejaVu Sans", "color": "black"},
          "encoding": {"x": {"datum": 12}, "y": {"datum": -1.5}, "text": {"field": "label", "type": "nominal"}}
        }
      ]
    },
    {
      "width": 1268, "height": 822,
      "layer": [
        {
          "data": {"name": "p3"},
          "mark": {"type": "errorbar", "thickness": 6},
          "encoding": {
            "x": {"field": "x", "type": "quantitative", "scale": {"domain": [9.5, 13], "nice": false, "zero": false}, "axis": {"values": [10, 11, 12, 13], "format": "d", "title": "log M∗ (M⊙)"}},
            "y": {"field": "y", "type": "quantitative", "scale": {"domain": [-2, 3], "nice": false, "zero": false}, "axis": {"values": [-2, -1, 0, 1, 2, 3], "format": "d", "title": "log Ṁ_BH (M⊙yr⁻¹)"}},
            "yError": {"field": "e"},
            "stroke": {"field": "s", "type": "nominal", "scale": {"domain": ["CIGALE S12", "CYGNUS E95", "Mullaney12 z~2"], "range": ["#ff0000", "#00bfbf", "#0000ff"]}, "legend": null}
          }
        },
        {
          "data": {"name": "p3"},
          "mark": {"type": "point", "filled": true, "shape": "circle", "size": 220, "opacity": 1, "strokeWidth": 0},
          "encoding": {
            "x": {"field": "x", "type": "quantitative"},
            "y": {"field": "y", "type": "quantitative"},
            "fill": {"field": "s", "type": "nominal", "scale": {"domain": ["CIGALE S12", "CYGNUS E95", "Mullaney12 z~2"], "range": ["#ff0000", "#00bfbf", "#0000ff"]}, "legend": null}
          }
        },
        {
          "data": {"name": "labels"},
          "transform": [{"filter": "datum.panel == 3"}],
          "mark": {"type": "text", "align": "left", "baseline": "alphabetic", "fontSize": 60, "font": "DejaVu Sans", "color": "black"},
          "encoding": {"x": {"datum": 12}, "y": {"datum": -1.5}, "text": {"field": "label", "type": "nominal"}}
        }
      ]
    },
    {
      "width": 1268, "height": 822,
      "layer": [
        {
          "data": {"name": "p4"},
          "mark": {"type": "errorbar", "thickness": 6},
          "encoding": {
            "x": {"field": "x", "type": "quantitative", "scale": {"domain": [9.5, 13], "nice": false, "zero": false}, "axis": {"values": [10, 11, 12, 13], "format": "d", "title": "log M∗ (M⊙)"}},
            "y": {"field": "y", "type": "quantitative", "scale": {"domain": [-2, 3], "nice": false, "zero": false}, "axis": {"values": [-2, -1, 0, 1, 2, 3], "format": "d", "title": null}},
            "yError": {"field": "e"},
            "stroke": {"field": "s", "type": "nominal", "scale": {"domain": ["CIGALE S12", "CYGNUS E95", "Mullaney12 z~2"], "range": ["#ff0000", "#00bfbf", "#0000ff"]}, "legend": null}
          }
        },
        {
          "data": {"name": "p4"},
          "mark": {"type": "point", "filled": true, "shape": "circle", "size": 220, "opacity": 1, "strokeWidth": 0},
          "encoding": {
            "x": {"field": "x", "type": "quantitative"},
            "y": {"field": "y", "type": "quantitative"},
            "fill": {"field": "s", "type": "nominal", "scale": {"domain": ["CIGALE S12", "CYGNUS E95", "Mullaney12 z~2"], "range": ["#ff0000", "#00bfbf", "#0000ff"]}, "legend": null}
          }
        },
        {
          "data": {"name": "labels"},
          "transform": [{"filter": "datum.panel == 4"}],
          "mark": {"type": "text", "align": "left", "baseline": "alphabetic", "fontSize": 60, "font": "DejaVu Sans", "color": "black"},
          "encoding": {"x": {"datum": 12}, "y": {"datum": -1.5}, "text": {"field": "label", "type": "nominal"}}
        }
      ]
    }
  ]
}
